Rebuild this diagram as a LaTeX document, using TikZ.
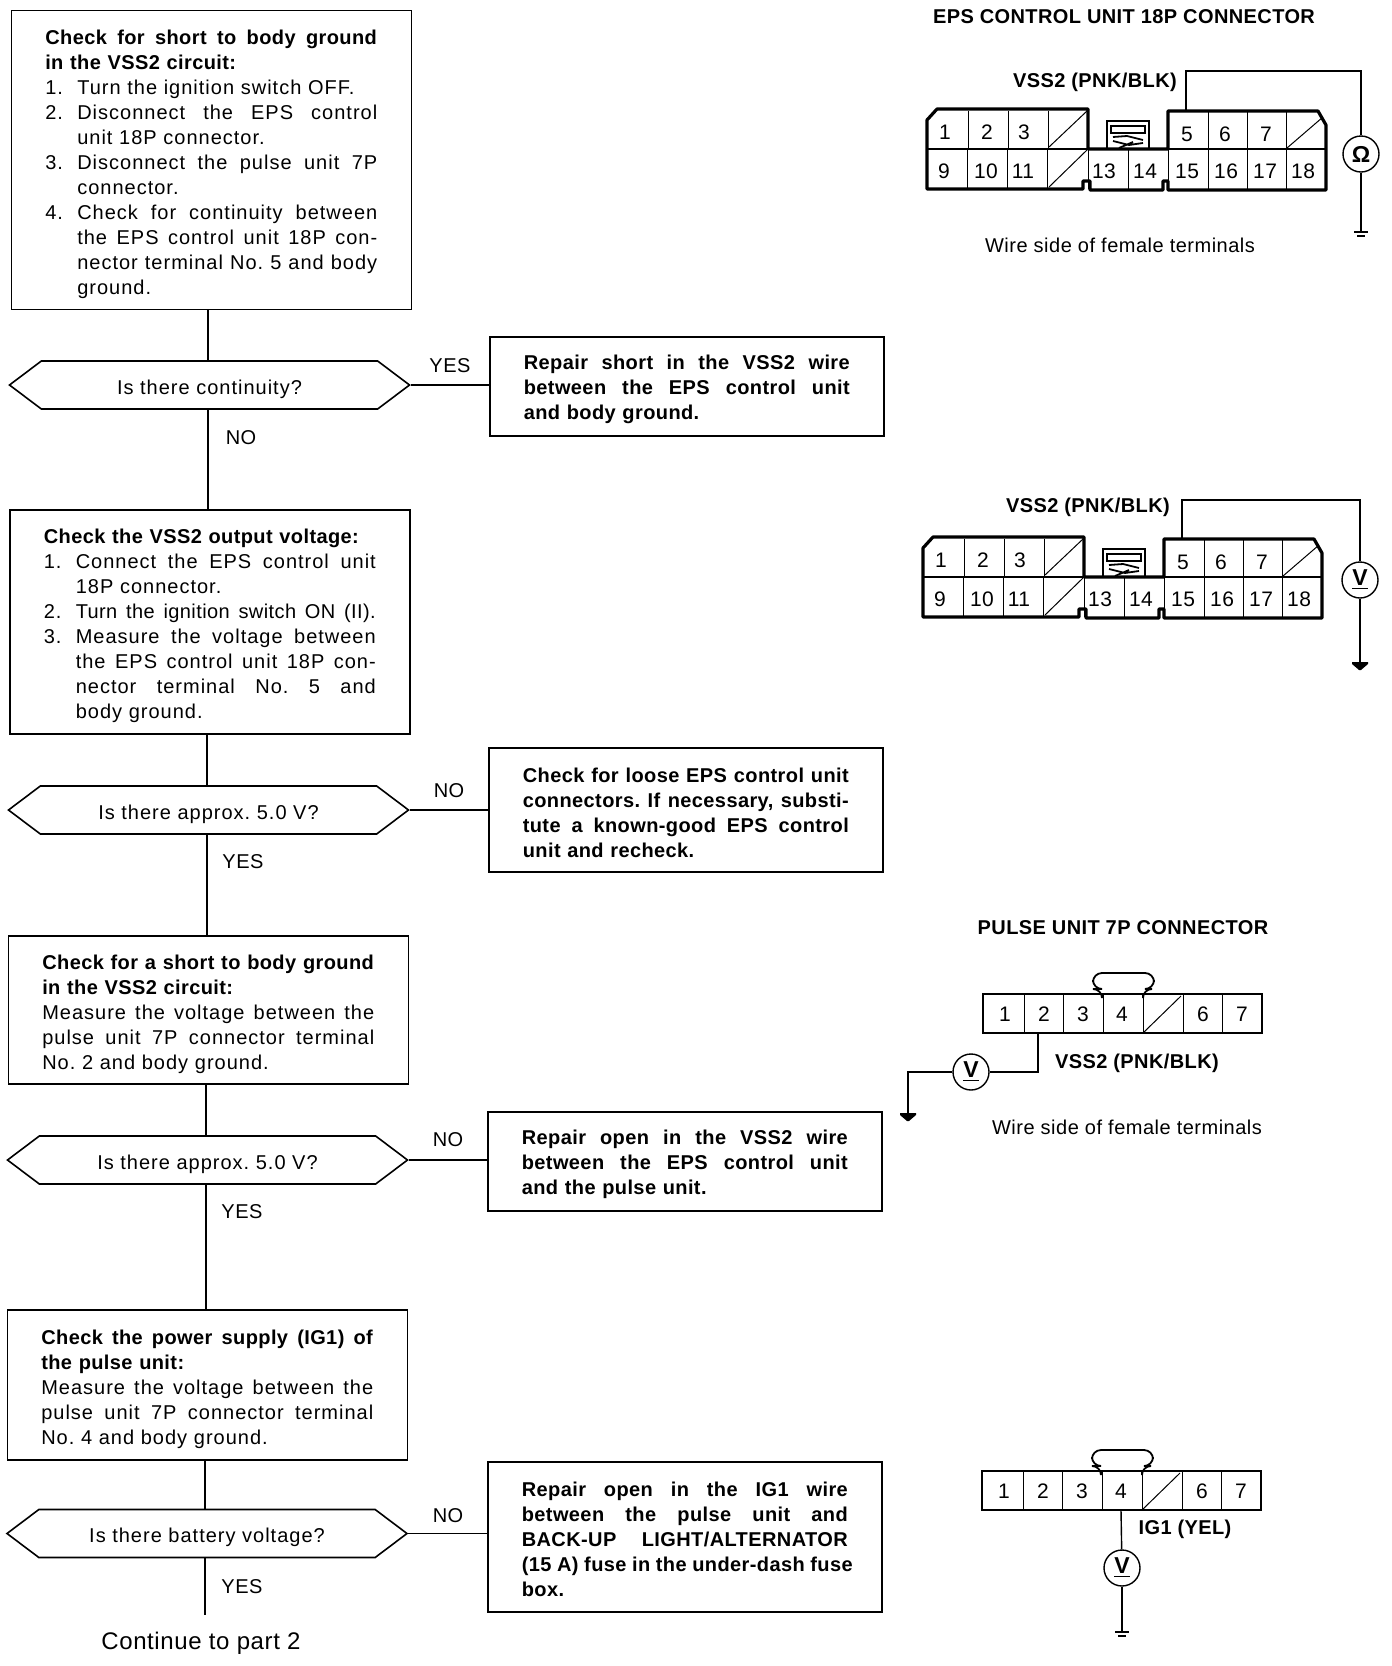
\documentclass[tikz,border=0pt]{standalone}
\usepackage{fontspec}
\setmainfont[LetterSpace=5,BoldFeatures={LetterSpace=2}]{Liberation Sans}
\newfontfamily\labelfont[LetterSpace=2.5]{Liberation Sans}
\usetikzlibrary{shapes.symbols}

% full lines are stretched to the width of the box
\newcommand{\stretched}[2]{\leavevmode\hbox to #1{\spaceskip=.28em plus 1fil\relax #2}}
\newcommand{\fl}[1]{\stretched{\boxw}{#1}}
\newcommand{\numline}[2]{\makebox[16pt][l]{#1}#2}
\newcommand{\numfl}[2]{\makebox[16pt][l]{#1}\stretched{\dimexpr\boxw-16pt\relax}{#2}}
\newcommand{\moreline}[1]{\hspace*{16pt}#1}
\newcommand{\morefl}[1]{\hspace*{16pt}\stretched{\dimexpr\boxw-16pt\relax}{#1}}
\newcommand{\bodyfont}{\fontsize{10}{12.5}\selectfont\frenchspacing}

\tikzset{
  boxbase/.style={draw,line width=.8pt,inner xsep=17pt,inner ysep=0pt,align=left,anchor=north west},
  stepbox/.style={boxbase,text width=166pt,font=\bodyfont,execute at begin node={\def\boxw{166pt}\rule{0pt}{11.5pt}}},
  fixbox/.style={boxbase,text width=163pt,font=\bodyfont\bfseries,execute at begin node={\def\boxw{163pt}\rule{0pt}{10pt}}},
  choice/.style={draw,line width=.8pt,shape=signal,signal to=west and east,signal pointer angle=74,inner sep=0pt,minimum width=200pt,minimum height=24pt,text height=10pt,text depth=.8pt,font=\bodyfont},
  flow/.style={line width=.8pt},
  wire/.style={line width=.7pt},
  answer/.style={font=\fontsize{10}{12.5}\labelfont},
  heading/.style={font=\bodyfont\bfseries},
  pinno/.style={font=\fontsize{10.5}{12}\labelfont,inner sep=0pt},
  meter/.style={draw,circle,line width=.7pt,minimum size=18pt,inner sep=0pt,fill=white,font=\fontsize{11.5}{12}\selectfont\bfseries},
  epsconn/.pic={
    \draw[line width=1.6pt,line join=round] (0,11) -- (10,0) -- (161,0) -- (161,40) -- (241,40) -- (241,2) -- (391,2) -- (399,16) -- (399,81)
      -- (241,81) -- (241,72) -- (236,72) -- (236,81) -- (163,81) -- (163,72) -- (156,72) -- (156,80) -- (0,80) -- cycle;
    \draw[line width=.8pt] (0,40) -- (399,40);
    \foreach \x in {41,81,121,281,320,359} {
      \draw[line width=.5pt] (\x,2) -- (\x,40);
    }
    \foreach \x in {40,80,120,161,201,241,281,320,359} {
      \draw[line width=.5pt] (\x,40) -- (\x,80);
    }
    \draw[line width=.5pt] (122,38) -- (160,2);
    \draw[line width=.5pt] (122,78) -- (160,41);
    \draw[line width=.5pt] (360,39) -- (396,8);
    % latch
    \draw[line width=1.2pt] (180,40) -- (180,12) -- (222,12) -- (222,40);
    \draw[line width=1pt] (184,17) rectangle (218,24);
    \draw[line width=.9pt] (186,28) -- (200,27) -- (216,31) (186,32) -- (202,36) -- (216,34) (192,39) -- (206,33);
    \foreach \n/\a/\b in {1/18/23,2/60/23,3/97/23,5/260/25,6/298/25,7/339/25,9/17/62,10/59/62,11/96/62,13/177/62,14/218/62,15/260/62,16/299/62,17/338/62,18/376/62} {
      \node[pinno] (-p\n) at (\a,\b) {\n};
    }
    \coordinate (-t5) at (259,2);
  },
  pulseconn/.pic={
    \draw[line width=1.4pt] (0,0) rectangle (279,39);
    \foreach \x in {41,80,120,160,200,239} {
      \draw[line width=.5pt] (\x,0) -- (\x,39);
    }
    \draw[line width=.5pt] (161,38) -- (198,2);
    \draw[line width=.9pt,rounded corners=4.5pt] (119,0) -- (119,-5) -- (110,-5) -- (110,-21) -- (171,-21) -- (171,-5) -- (160,-5) -- (160,0);
    \foreach \n/\a in {1/22,2/61,3/100,4/139,6/220,7/259} {
      \node[pinno] (-p\n) at (\a,20) {\n};
    }
    \coordinate (-b2) at (55,39);
    \coordinate (-b4) at (139,39);
  },
  gnd/.pic={
    \draw[line width=.8pt] (-7,0) -- (7,0);
    \draw[line width=1.2pt] (-4,4) -- (4,4);
  },
  gndarrow/.pic={
    \fill (-8,0) -- (8,0) -- (8,2) -- (1,8) -- (-1,8) -- (-8,2) -- cycle;
  },
}

\begin{document}
\begin{tikzpicture}[x=.5pt,y=-.5pt]
\useasboundingbox (0,0) rectangle (1392,1666);

% left column
\coordinate (stemA) at (208,0);
\coordinate (stemB) at (207,0);
\coordinate (stemC) at (206,0);
\coordinate (stemD) at (205,0);

\node[stepbox,minimum height=149.5pt] (checkA) at (10.5,9.5) {\fl{\textbf{Check for short to body ground}}\\\textbf{in the VSS2 circuit:}\\
\numline{1.}{Turn the ignition switch OFF.}\\
\numfl{2.}{Disconnect the EPS control}\\\moreline{unit 18P connector.}\\
\numfl{3.}{Disconnect the pulse unit 7P}\\\moreline{connector.}\\
\numfl{4.}{Check for continuity between}\\\morefl{the EPS control unit 18P con-}\\\morefl{nector terminal No. 5 and body}\\\moreline{ground.}};
\node[choice] (askA) at (209.5,385) {Is there continuity?};
\node[fixbox,minimum height=49.5pt] (fixA) at (489,336) {\fl{Repair short in the VSS2 wire}\\\fl{between the EPS control unit}\\and body ground.};

\node[stepbox,minimum height=112pt] (checkB) at (9,509) {\textbf{Check the VSS2 output voltage:}\\
\numfl{1.}{Connect the EPS control unit}\\\moreline{18P connector.}\\
\numfl{2.}{\addfontfeature{LetterSpace=2}Turn the ignition switch ON (II).}\\
\numfl{3.}{Measure the voltage between}\\\morefl{the EPS control unit 18P con-}\\\morefl{nector terminal No. 5 and}\\\moreline{body ground.}};
\node[choice] (askB) at (208.5,810) {Is there approx. 5.0 V?};
\node[fixbox,minimum height=62pt] (fixB) at (488,747) {\fl{Check for loose EPS control unit}\\\fl{connectors. If necessary, substi-}\\\fl{tute a known-good EPS control}\\unit and recheck.};

\node[stepbox,minimum height=74pt] (checkC) at (7.5,935) {\fl{\textbf{Check for a short to body ground}}\\\textbf{in the VSS2 circuit:}\\
\fl{Measure the voltage between the}\\\fl{pulse unit 7P connector terminal}\\No. 2 and body ground.};
\node[choice] (askC) at (207.5,1160) {Is there approx. 5.0 V?};
\node[fixbox,minimum height=49.5pt] (fixC) at (487,1111) {\fl{Repair open in the VSS2 wire}\\\fl{between the EPS control unit}\\and the pulse unit.};

\node[stepbox,minimum height=75pt] (checkD) at (6.5,1309) {\fl{\textbf{Check the power supply (IG1) of}}\\\textbf{the pulse unit:}\\
\fl{Measure the voltage between the}\\\fl{pulse unit 7P connector terminal}\\No. 4 and body ground.};
\node[choice] (askD) at (207,1533.5) {Is there battery voltage?};
\node[fixbox,minimum height=75pt] (fixD) at (487,1461) {\fl{Repair open in the IG1 wire}\\\fl{between the pulse unit and}\\\fl{BACK-UP LIGHT/ALTERNATOR}\\\fl{(15 A) fuse in the under-dash fuse}\\box.};

\node[font=\fontsize{12}{14}\labelfont] (nextpart) at (201,1643) {Continue to part 2};
\coordinate (endD) at (205,1615);

\draw[flow] (checkA.south -| stemA) -- (askA.north -| stemA);
\draw[flow] (askA.south -| stemA) -- (checkB.north -| stemA);
\draw[flow] (checkB.south -| stemB) -- (askB.north -| stemB);
\draw[flow] (askB.south -| stemB) -- (checkC.north -| stemB);
\draw[flow] (checkC.south -| stemC) -- (askC.north -| stemC);
\draw[flow] (askC.south -| stemC) -- (checkD.north -| stemC);
\draw[flow] (checkD.south -| stemD) -- (askD.north -| stemD);
\draw[flow] (askD.south -| stemD) -- (endD);

\draw[flow] (askA.east) -- (fixA.west |- askA.east);
\draw[flow] (askB.east) -- (fixB.west |- askB.east);
\draw[flow] (askC.east) -- (fixC.west |- askC.east);
\draw[flow] (askD.east) -- (fixD.west |- askD.east);

\node[answer] (yesA) at (450,366) {YES};
\node[answer] (noA) at (241,438) {NO};
\node[answer] (noB) at (449,791) {NO};
\node[answer] (yesB) at (243,862) {YES};
\node[answer] (noC) at (448,1140) {NO};
\node[answer] (yesC) at (242,1212) {YES};
\node[answer] (noD) at (448,1516) {NO};
\node[answer] (yesD) at (242,1587) {YES};

% EPS connector, ohmmeter
\node[heading] (headA) at (1124,17) {EPS CONTROL UNIT 18P CONNECTOR};
\node[heading] (vssA) at (1095,82) {VSS2 (PNK/BLK)};
\pic (epsa) at (927,109) {epsconn};
\coordinate (cornerA) at (1361,71);
\node[meter] (ohmA) at (1361,154) {Ω};
\coordinate (gndA) at (1361,232);
\draw[wire] (epsa-t5) |- (cornerA) -- (ohmA);
\draw[wire] (ohmA) -- (gndA);
\pic at (gndA) {gnd};
\node[answer] (sideA) at (1120,245) {Wire side of female terminals};

% EPS connector, voltmeter
\node[heading] (vssB) at (1088,507) {VSS2 (PNK/BLK)};
\pic (epsb) at (923,537) {epsconn};
\coordinate (cornerB) at (1360,500);
\node[meter] (voltB) at (1360,580) {\underline{V}};
\coordinate (gndB) at (1360,662);
\draw[wire] (epsb-t5) |- (cornerB) -- (voltB);
\draw[wire] (voltB) -- (gndB);
\pic at (gndB) {gndarrow};

% pulse unit, VSS2
\node[heading] (headC) at (1123,928) {PULSE UNIT 7P CONNECTOR};
\pic (pula) at (983,994) {pulseconn};
\coordinate (cornerC) at (1038,1072);
\node[meter] (voltC) at (971,1072) {\underline{V}};
\coordinate (cornerCb) at (908,1072);
\coordinate (gndC) at (908,1113);
\draw[wire] (pula-b2) -- (cornerC) -- (voltC);
\draw[wire] (voltC) -- (cornerCb) -- (gndC);
\pic at (gndC) {gndarrow};
\node[heading] (vssC) at (1137,1063) {VSS2 (PNK/BLK)};
\node[answer] (sideC) at (1127,1127) {Wire side of female terminals};

% pulse unit, IG1
\pic (pulb) at (982,1471) {pulseconn};
\node[meter] (voltD) at (1122,1568) {\underline{V}};
\coordinate (gndD) at (1122,1632);
\draw[wire] (pulb-b4) -- (voltD);
\draw[wire] (voltD) -- (gndD);
\pic at (gndD) {gnd};
\node[heading] (ignD) at (1185,1529) {IG1 (YEL)};
\end{tikzpicture}
\end{document}
